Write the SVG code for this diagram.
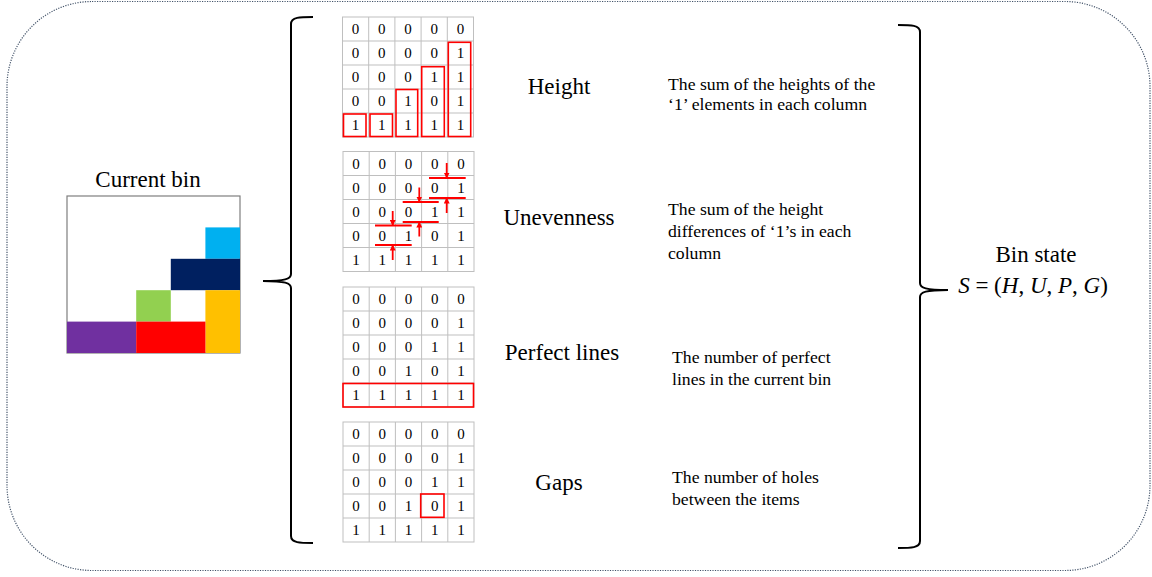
<svg xmlns="http://www.w3.org/2000/svg" width="1152" height="577" viewBox="0 0 1152 577">
<style>
.frame{fill:none;stroke:#44546A;stroke-width:1.2;stroke-dasharray:1.2 1.3}
.brace{fill:none;stroke:#000;stroke-width:2}
.gl{stroke:#BFBFBF;stroke-width:1;fill:none}
.n{font-family:"Liberation Serif","Times New Roman","DejaVu Serif",serif;font-size:15px;text-anchor:middle;fill:#000}
.hl{fill:none;stroke:#FF0000;stroke-width:1.6}
.rl{stroke:#FF0000;stroke-width:2;fill:none}
.ra{stroke:#FF0000;stroke-width:1.8;fill:none;marker-end:url(#ah)}
.lab{font-family:"Liberation Serif","Times New Roman","DejaVu Serif",serif;font-size:23px;text-anchor:middle;fill:#000}
.desc{font-family:"Liberation Serif","Times New Roman","DejaVu Serif",serif;font-size:17.7px;fill:#000}
.mi{font-style:italic}
</style>
<defs>
<marker id="ah" markerWidth="6" markerHeight="6" refX="5" refY="3" orient="auto" markerUnits="userSpaceOnUse">
<path d="M0,0 L6,3 L0,6 Z" fill="#FF0000"/>
</marker>
<g id="gridlines">
<rect x="0" y="0" width="131" height="120" class="gl"/>
<path class="gl" d="M26.2,0V120M52.4,0V120M78.6,0V120M104.8,0V120M0,24H131M0,48H131M0,72H131M0,96H131"/>
</g>
</defs>
<rect class="frame" x="7" y="1.5" width="1143" height="569" rx="85" ry="85"/>

<g id="current-bin">
<text class="lab" x="148" y="187">Current bin</text>
<rect x="67" y="196" width="173" height="157" fill="#fff" stroke="#7F7F7F" stroke-width="1.2"/>
<rect x="205.4" y="227.4" width="34.6" height="31.4" fill="#00B0F0"/>
<rect x="170.8" y="258.8" width="69.2" height="31.4" fill="#002060"/>
<rect x="136.2" y="290.2" width="34.6" height="31.4" fill="#92D050"/>
<rect x="205.4" y="290.2" width="34.6" height="62.8" fill="#FFC000"/>
<rect x="67" y="321.6" width="69.2" height="31.4" fill="#7030A0"/>
<rect x="136.2" y="321.6" width="69.2" height="31.4" fill="#FF0000"/>
</g>

<g id="connectors">
<path class="brace" d="M313,17 C300,17 291,17 291,24 L291,274 C291,279 285,281 263,281 C285,281 291,283 291,288 L291,536 C291,543 300,543 313,543"/>
<path class="brace" d="M898,25 C911,25 920,25 920,32 L920,283 C920,288 926,290 948,290 C926,290 920,292 920,297 L920,541 C920,548 911,548 898,548"/>
</g>

<g id="grid-height" transform="translate(342.5,17)">
<use href="#gridlines"/>
<text class="n" x="13.1" y="17">0</text><text class="n" x="39.3" y="17">0</text><text class="n" x="65.5" y="17">0</text><text class="n" x="91.7" y="17">0</text><text class="n" x="117.9" y="17">0</text>
<text class="n" x="13.1" y="41">0</text><text class="n" x="39.3" y="41">0</text><text class="n" x="65.5" y="41">0</text><text class="n" x="91.7" y="41">0</text><text class="n" x="117.9" y="41">1</text>
<text class="n" x="13.1" y="65">0</text><text class="n" x="39.3" y="65">0</text><text class="n" x="65.5" y="65">0</text><text class="n" x="91.7" y="65">1</text><text class="n" x="117.9" y="65">1</text>
<text class="n" x="13.1" y="89">0</text><text class="n" x="39.3" y="89">0</text><text class="n" x="65.5" y="89">1</text><text class="n" x="91.7" y="89">0</text><text class="n" x="117.9" y="89">1</text>
<text class="n" x="13.1" y="113">1</text><text class="n" x="39.3" y="113">1</text><text class="n" x="65.5" y="113">1</text><text class="n" x="91.7" y="113">1</text><text class="n" x="117.9" y="113">1</text>
<rect class="hl" x="1" y="97" width="22.5" height="22.5"/>
<rect class="hl" x="27.5" y="97" width="22.5" height="22.5"/>
<rect class="hl" x="53.5" y="72.5" width="21.7" height="47"/>
<rect class="hl" x="79.2" y="49.7" width="22.6" height="69.8"/>
<rect class="hl" x="105.8" y="25.3" width="22.4" height="94.2"/>
</g>

<g id="grid-unevenness" transform="translate(343,151.5)">
<use href="#gridlines"/>
<text class="n" x="13.1" y="17">0</text><text class="n" x="39.3" y="17">0</text><text class="n" x="65.5" y="17">0</text><text class="n" x="91.7" y="17">0</text><text class="n" x="117.9" y="17">0</text>
<text class="n" x="13.1" y="41">0</text><text class="n" x="39.3" y="41">0</text><text class="n" x="65.5" y="41">0</text><text class="n" x="91.7" y="41">0</text><text class="n" x="117.9" y="41">1</text>
<text class="n" x="13.1" y="65">0</text><text class="n" x="39.3" y="65">0</text><text class="n" x="65.5" y="65">0</text><text class="n" x="91.7" y="65">1</text><text class="n" x="117.9" y="65">1</text>
<text class="n" x="13.1" y="89">0</text><text class="n" x="39.3" y="89">0</text><text class="n" x="65.5" y="89">1</text><text class="n" x="91.7" y="89">0</text><text class="n" x="117.9" y="89">1</text>
<text class="n" x="13.1" y="113">1</text><text class="n" x="39.3" y="113">1</text><text class="n" x="65.5" y="113">1</text><text class="n" x="91.7" y="113">1</text><text class="n" x="117.9" y="113">1</text>
<path class="rl" d="M86,26.5H122.7M86,46.5H122.7M59.7,50.5H95.7M59.7,70.5H95.7M32,74H68.7M32,93.5H68.7"/>
<path class="ra" d="M103.7,11.5V26"/>
<path class="ra" d="M103.7,61.5V47"/>
<path class="ra" d="M76.3,36V50"/>
<path class="ra" d="M76.3,85V71"/>
<path class="ra" d="M49.7,59.5V73.5"/>
<path class="ra" d="M49.7,108.5V94"/>
</g>

<g id="grid-perfect" transform="translate(343,287)">
<use href="#gridlines"/>
<text class="n" x="13.1" y="17">0</text><text class="n" x="39.3" y="17">0</text><text class="n" x="65.5" y="17">0</text><text class="n" x="91.7" y="17">0</text><text class="n" x="117.9" y="17">0</text>
<text class="n" x="13.1" y="41">0</text><text class="n" x="39.3" y="41">0</text><text class="n" x="65.5" y="41">0</text><text class="n" x="91.7" y="41">0</text><text class="n" x="117.9" y="41">1</text>
<text class="n" x="13.1" y="65">0</text><text class="n" x="39.3" y="65">0</text><text class="n" x="65.5" y="65">0</text><text class="n" x="91.7" y="65">1</text><text class="n" x="117.9" y="65">1</text>
<text class="n" x="13.1" y="89">0</text><text class="n" x="39.3" y="89">0</text><text class="n" x="65.5" y="89">1</text><text class="n" x="91.7" y="89">0</text><text class="n" x="117.9" y="89">1</text>
<text class="n" x="13.1" y="113">1</text><text class="n" x="39.3" y="113">1</text><text class="n" x="65.5" y="113">1</text><text class="n" x="91.7" y="113">1</text><text class="n" x="117.9" y="113">1</text>
<rect class="hl" x="0" y="96.5" width="130.5" height="23.5" stroke-width="2"/>
</g>

<g id="grid-gaps" transform="translate(343,422)">
<use href="#gridlines"/>
<text class="n" x="13.1" y="17">0</text><text class="n" x="39.3" y="17">0</text><text class="n" x="65.5" y="17">0</text><text class="n" x="91.7" y="17">0</text><text class="n" x="117.9" y="17">0</text>
<text class="n" x="13.1" y="41">0</text><text class="n" x="39.3" y="41">0</text><text class="n" x="65.5" y="41">0</text><text class="n" x="91.7" y="41">0</text><text class="n" x="117.9" y="41">1</text>
<text class="n" x="13.1" y="65">0</text><text class="n" x="39.3" y="65">0</text><text class="n" x="65.5" y="65">0</text><text class="n" x="91.7" y="65">1</text><text class="n" x="117.9" y="65">1</text>
<text class="n" x="13.1" y="89">0</text><text class="n" x="39.3" y="89">0</text><text class="n" x="65.5" y="89">1</text><text class="n" x="91.7" y="89">0</text><text class="n" x="117.9" y="89">1</text>
<text class="n" x="13.1" y="113">1</text><text class="n" x="39.3" y="113">1</text><text class="n" x="65.5" y="113">1</text><text class="n" x="91.7" y="113">1</text><text class="n" x="117.9" y="113">1</text>
<rect class="hl" x="77.7" y="72" width="23.3" height="23.3" stroke-width="2"/>
</g>

<g id="label-height">
<text class="lab" x="559" y="94">Height</text>
<text class="desc" x="668" y="90">The sum of the heights  of the</text>
<text class="desc" x="668" y="110">‘1’ elements  in each column</text>
</g>
<g id="label-unevenness">
<text class="lab" x="559" y="225">Unevenness</text>
<text class="desc" x="668" y="215">The sum of the height</text>
<text class="desc" x="668" y="237">differences of ‘1’s in each</text>
<text class="desc" x="668" y="259">column</text>
</g>
<g id="label-perfect">
<text class="lab" x="562" y="360">Perfect lines</text>
<text class="desc" x="672" y="363">The number of perfect</text>
<text class="desc" x="672" y="385">lines  in the current bin</text>
</g>
<g id="label-gaps">
<text class="lab" x="559" y="490">Gaps</text>
<text class="desc" x="672" y="483">The number of holes</text>
<text class="desc" x="672" y="505">between the items</text>
</g>
<g id="bin-state">
<text class="lab" x="1036" y="262">Bin state</text>
<text class="lab" x="1033" y="293"><tspan class="mi">S</tspan> = (<tspan class="mi">H</tspan>, <tspan class="mi">U</tspan>, <tspan class="mi">P</tspan>, <tspan class="mi">G</tspan>)</text>
</g>
</svg>
